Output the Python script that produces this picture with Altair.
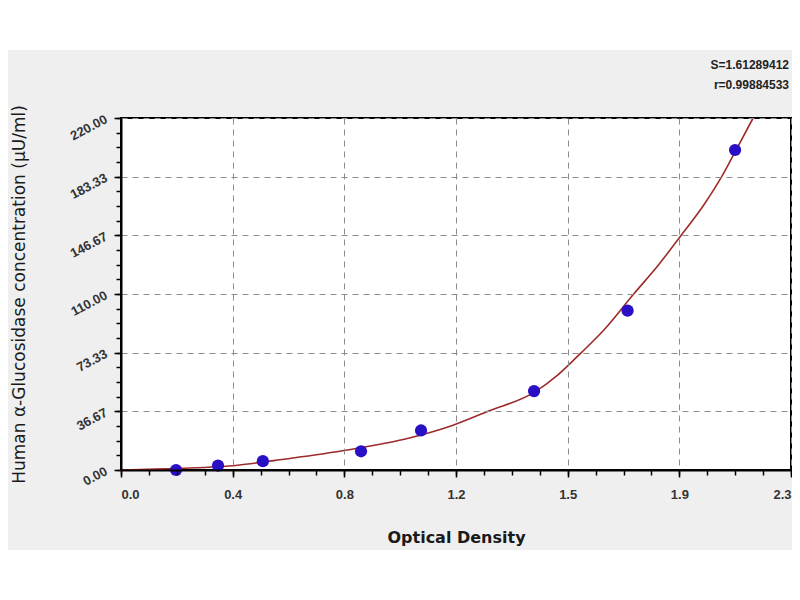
import pandas as pd
import altair as alt

# standard points (optical density vs concentration)
od = [0.189, 0.333, 0.487, 0.824, 1.030, 1.418, 1.739, 2.108]
conc = [0.0, 2.8, 5.5, 11.7, 24.7, 49.3, 99.6, 200.0]

# fitted curve
curve_od = [0.0, 0.2, 0.4, 0.53, 0.76, 0.99, 1.14, 1.26, 1.418, 1.5, 1.58,
            1.66, 1.76, 1.84, 1.92, 2.0, 2.062, 2.11, 2.17]
curve_conc = [0.0, 1.0, 3.0, 6.0, 12.0, 20.0, 28.0, 36.67, 48.5, 59.5, 73.33,
              88.0, 110.0, 127.0, 146.0, 165.5, 183.33, 199.5, 220.0]

fit_text = ["S=1.61289412", "r=0.99884533"]

x_max = 2.3
y_max = 220.0
x_major = [x_max * k / 6 for k in range(7)]
x_minor = [x_max * k / 24 for k in range(25)]
y_major = [y_max * k / 6 for k in range(7)]
y_minor = [y_max * k / 24 for k in range(25)]

W, H = 670, 352

points = pd.DataFrame({"od": od, "conc": conc})
curve = pd.DataFrame({"od": curve_od, "conc": curve_conc})
one = pd.DataFrame({"a": [0]})

x_scale = alt.Scale(domain=[0, x_max], nice=False, zero=False)
y_scale = alt.Scale(domain=[0, y_max], nice=False, zero=False)

tick_font = dict(labelFont="Liberation Sans", labelFontWeight="bold",
                 labelColor="#333333")

x_axis = alt.Axis(
    values=x_major, orient="bottom", labelExpr="format(datum.value + 0.0001, '.1f')",
    title="Optical Density", titleFont="DejaVu Sans", titleFontSize=16,
    titleFontWeight="bold", titleColor="#1a1a1a", titlePadding=28,
    grid=True, gridColor="#8c8c8c", gridDash=[6, 5], gridWidth=1,
    tickSize=7, tickColor="black", tickWidth=1.5,
    domainColor="black", domainWidth=2, labelPadding=11, labelBaseline="top",
    labelFontSize=13, zindex=1, **tick_font,
)
y_axis = alt.Axis(
    values=y_major, orient="left", format=".2f",
    title="Human α-Glucosidase concentration (μU/ml)", titleFont="DejaVu Sans",
    titleFontSize=17, titleFontWeight="normal", titleColor="#1a1a1a",
    titleX=-102, titleY=H / 2, titleAngle=270, titleAlign="center", titleBaseline="middle",
    grid=True, gridColor="#8c8c8c", gridDash=[6, 5], gridWidth=1,
    tickSize=7, tickColor="black", tickWidth=1.5,
    domainColor="black", domainWidth=2,
    labelAngle=-28, labelAlign="right", labelBaseline="middle", labelPadding=8,
    labelFontSize=13, zindex=1, **tick_font,
)
x_minor_axis = alt.Axis(values=x_minor, orient="bottom", labels=False, grid=False,
                        domain=False, tickSize=5, tickColor="black", tickWidth=1.5,
                        title="", zindex=1)
y_minor_axis = alt.Axis(values=y_minor, orient="left", labels=False, grid=False,
                        domain=False, tickSize=5, tickColor="black", tickWidth=1.5,
                        title="", zindex=1)

# grey panel behind the whole figure, white plot area with black frame
panel = alt.Chart(one).mark_rect(color="#efefef").encode(
    x=alt.value(-113), x2=alt.value(W + 1), y=alt.value(-68), y2=alt.value(432)
)
plot_bg = alt.Chart(one).mark_rect(fill="white", stroke="black", strokeWidth=2).encode(
    x=alt.value(0), x2=alt.value(W), y=alt.value(0), y2=alt.value(H)
)

line = alt.Chart(curve).mark_line(color="#9e2b2b", strokeWidth=1.6,
                                  interpolate="monotone").encode(
    x=alt.X("od:Q", scale=x_scale, axis=x_minor_axis),
    y=alt.Y("conc:Q", scale=y_scale, axis=y_minor_axis),
)

dots = alt.Chart(points).mark_circle(color="#2a10c4", size=150, opacity=1).encode(
    x=alt.X("od:Q", scale=x_scale, axis=x_axis),
    y=alt.Y("conc:Q", scale=y_scale, axis=y_axis),
)

chart = alt.layer(panel, plot_bg, line, dots).resolve_axis(
    x="independent", y="independent"
).properties(
    width=W,
    height=H,
    autosize="none",
    padding={"left": 113, "top": 110, "right": 1, "bottom": 84},
    title=alt.Title(fit_text, anchor="end", frame="group", font="Liberation Sans",
                    fontSize=12, fontWeight="bold", color="#222222",
                    offset=26, lineHeight=20, dx=-2, dy=68),
).configure(background="white").configure_view(strokeWidth=0)

chart.save("out.html", embed_options={"renderer": "svg", "actions": False})
